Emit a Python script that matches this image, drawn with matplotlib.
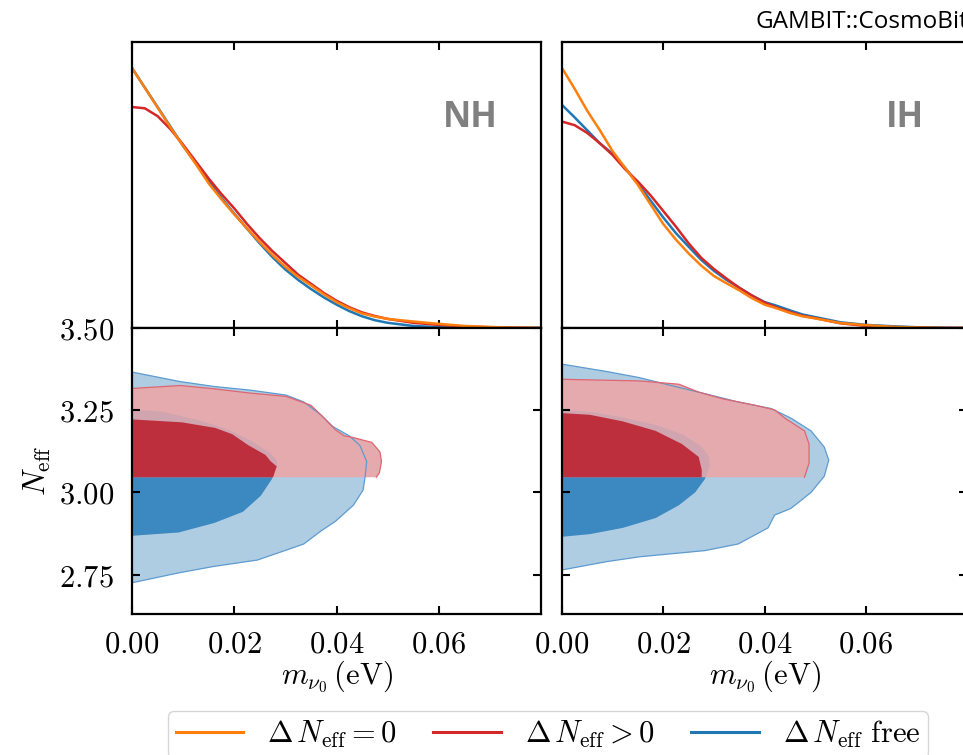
import matplotlib
matplotlib.use('Agg')
import matplotlib.pyplot as plt
from matplotlib.ticker import FuncFormatter

plt.rcParams['mathtext.fontset'] = 'cm'

# 1D posteriors (normalised), m_nu0 grid in eV
m_1d = [0, 0.0025, 0.005, 0.0075, 0.01, 0.0125, 0.015, 0.0175, 0.02, 0.0225, 0.025, 0.0275,
        0.03, 0.0325, 0.035, 0.0375, 0.04, 0.0425, 0.045, 0.0475, 0.05, 0.055, 0.06, 0.065,
        0.07, 0.075, 0.08]

nh_orange = [1.0, 0.924, 0.848, 0.772, 0.70, 0.63, 0.556, 0.495, 0.437, 0.383, 0.33, 0.28,
             0.235, 0.197, 0.164, 0.13, 0.10, 0.076, 0.056, 0.044, 0.035, 0.025, 0.016, 0.008,
             0.004, 0.001, 0.0]
nh_red = [0.85, 0.845, 0.815, 0.765, 0.705, 0.64, 0.575, 0.515, 0.46, 0.40, 0.345, 0.295,
          0.25, 0.205, 0.17, 0.135, 0.105, 0.08, 0.06, 0.046, 0.035, 0.02, 0.012, 0.006,
          0.003, 0.001, 0.0]
nh_blue = [1.0, 0.925, 0.85, 0.775, 0.70, 0.633, 0.565, 0.50, 0.44, 0.382, 0.325, 0.272,
           0.225, 0.185, 0.15, 0.118, 0.09, 0.065, 0.045, 0.03, 0.02, 0.008, 0.003, 0.001,
           0.0, 0.0, 0.0]

ih_orange = [1.0, 0.92, 0.835, 0.76, 0.68, 0.615, 0.55, 0.475, 0.40, 0.34, 0.287, 0.24,
             0.20, 0.172, 0.145, 0.115, 0.09, 0.075, 0.058, 0.045, 0.037, 0.019, 0.011, 0.005,
             0.002, 0.0, 0.0]
ih_red = [0.794, 0.78, 0.75, 0.71, 0.665, 0.61, 0.563, 0.51, 0.45, 0.39, 0.326, 0.27,
          0.227, 0.19, 0.155, 0.125, 0.098, 0.078, 0.062, 0.047, 0.038, 0.018, 0.008, 0.003,
          0.001, 0.0, 0.0]
ih_blue = [0.858, 0.81, 0.76, 0.71, 0.67, 0.615, 0.555, 0.49, 0.425, 0.365, 0.313, 0.262,
           0.22, 0.185, 0.155, 0.125, 0.10, 0.085, 0.068, 0.052, 0.042, 0.022, 0.012, 0.007,
           0.003, 0.001, 0.0]

# 2D credible region boundaries (m_nu0, N_eff), traced from the m=0 axis
nh_blue95_m = [0, 0.0091, 0.0161, 0.0245, 0.0301, 0.0336, 0.0370, 0.0398, 0.0433, 0.0452, 0.0456,
               0.0459, 0.0446, 0.0426, 0.0393, 0.0370, 0.0336, 0.0301, 0.0231, 0.0161, 0.0094, 0]
nh_blue95_n = [2.725, 2.755, 2.775, 2.794, 2.824, 2.843, 2.883, 2.912, 2.961, 3.007, 3.047,
               3.094, 3.142, 3.171, 3.200, 3.235, 3.275, 3.296, 3.311, 3.322, 3.337, 3.366]
nh_blue68_m = [0, 0.0091, 0.0161, 0.0217, 0.0252, 0.0273, 0.0285, 0.0282, 0.0270, 0.0235,
               0.0190, 0.0130, 0.0060, 0]
nh_blue68_n = [2.868, 2.878, 2.907, 2.941, 2.990, 3.039, 3.080, 3.100, 3.120, 3.155,
               3.190, 3.220, 3.245, 3.253]
nh_red95_m = [0, 0.0478, 0.0484, 0.0488, 0.0485, 0.0469, 0.0432, 0.0415, 0.0398, 0.0370,
              0.0350, 0.0301, 0.0231, 0.0161, 0.0094, 0]
nh_red95_n = [3.046, 3.046, 3.060, 3.094, 3.123, 3.152, 3.167, 3.172, 3.190, 3.235,
              3.265, 3.292, 3.302, 3.315, 3.325, 3.316]
nh_red68_m = [0, 0.0276, 0.0283, 0.0271, 0.0261, 0.0228, 0.0196, 0.0163, 0.0098, 0]
nh_red68_n = [3.046, 3.046, 3.079, 3.095, 3.114, 3.143, 3.177, 3.196, 3.213, 3.222]

ih_blue95_m = [0, 0.0087, 0.0153, 0.0283, 0.0348, 0.0407, 0.0420, 0.0452, 0.0492, 0.0518, 0.0527,
               0.0518, 0.0492, 0.0452, 0.0413, 0.0348, 0.0283, 0.0218, 0.0153, 0.0087, 0]
ih_blue95_n = [2.764, 2.789, 2.804, 2.823, 2.843, 2.892, 2.931, 2.951, 3.000, 3.049, 3.098,
               3.138, 3.187, 3.226, 3.255, 3.275, 3.300, 3.324, 3.349, 3.368, 3.390]
ih_blue68_m = [0, 0.0055, 0.0120, 0.0185, 0.0231, 0.0263, 0.0282, 0.0292, 0.0290, 0.0275,
               0.0240, 0.0185, 0.0120, 0.0055, 0]
ih_blue68_n = [2.865, 2.873, 2.892, 2.922, 2.961, 3.000, 3.040, 3.080, 3.110, 3.140,
               3.175, 3.205, 3.228, 3.245, 3.250]
ih_red95_m = [0, 0.0479, 0.0488, 0.0488, 0.0479, 0.0440, 0.0420, 0.0381, 0.0316, 0.0270,
              0.0231, 0.0153, 0]
ih_red95_n = [3.046, 3.046, 3.089, 3.147, 3.187, 3.226, 3.251, 3.265, 3.285, 3.305,
              3.329, 3.339, 3.344]
ih_red68_m = [0, 0.0276, 0.0276, 0.0270, 0.0237, 0.0185, 0.0120, 0.0055, 0]
ih_red68_n = [3.046, 3.046, 3.069, 3.108, 3.147, 3.187, 3.216, 3.236, 3.241]

labels = [r'$\Delta\,N_{\rm eff} = 0$', r'$\Delta\,N_{\rm eff} > 0$', r'$\Delta\,N_{\rm eff}\ \mathrm{free}$']
c_orange = '#ff7f0e'
c_red = '#d62728'
c_blue = '#1f77b4'

fig = plt.figure(figsize=(9.63, 7.55), dpi=100)
W, H = 963.0, 755.0


def ax_at(x0, y_top, w, h):
    return fig.add_axes([x0 / W, 1 - (y_top + h) / H, w / W, h / H])


ax_nh1 = ax_at(132, 42, 409, 286)
ax_nh2 = ax_at(132, 328, 409, 286)
ax_ih1 = ax_at(562, 42, 405, 286)
ax_ih2 = ax_at(562, 328, 405, 286)

fmt = FuncFormatter(lambda v, p: '$%.2f$' % v)
xt = [0.0, 0.02, 0.04, 0.06]

for ax in [ax_nh1, ax_nh2, ax_ih1, ax_ih2]:
    for s in ax.spines.values():
        s.set_linewidth(1.6)
    ax.set_xlim(0, 0.08)
    ax.set_xticks(xt)
    ax.tick_params(direction='in', length=6, width=1.5, top=True, right=True,
                   labelsize=22, pad=11)

# top row: 1D posteriors
for ax, o, r, b, name in [(ax_nh1, nh_orange, nh_red, nh_blue, 'NH'),
                          (ax_ih1, ih_orange, ih_red, ih_blue, 'IH')]:
    ax.plot(m_1d, b, color=c_blue, lw=1.8)
    ax.plot(m_1d, r, color=c_red, lw=1.8)
    ax.plot(m_1d, o, color=c_orange, lw=1.8)
    ax.set_ylim(0, 1.1)
    ax.set_yticks([])
    ax.tick_params(labelbottom=False)
    ax.text(0.895, 0.735, name, transform=ax.transAxes, ha='right', va='center',
            fontsize=25, fontweight='bold', color='#808080', family='Open Sans')

# bottom row: 2D credible regions
blue_light = '#aecde3'
blue_dark = '#3c88c0'
red_light = '#e5aaae'
red_dark = '#be2f3e'

for ax, regions in [(ax_nh2, (nh_blue95_m, nh_blue95_n, nh_blue68_m, nh_blue68_n,
                              nh_red95_m, nh_red95_n, nh_red68_m, nh_red68_n)),
                    (ax_ih2, (ih_blue95_m, ih_blue95_n, ih_blue68_m, ih_blue68_n,
                              ih_red95_m, ih_red95_n, ih_red68_m, ih_red68_n))]:
    b95m, b95n, b68m, b68n, r95m, r95n, r68m, r68n = regions
    ax.fill(b95m, b95n, color=blue_light, lw=0)
    ax.fill(b68m, b68n, color=blue_dark, lw=0)
    ax.fill(r95m, r95n, color=red_light, lw=0)
    # blue 68% region faintly showing through the red one
    ax.fill(b68m, b68n, color=blue_dark, alpha=0.12, lw=0)
    ax.fill(r68m, r68n, color=red_dark, lw=0)
    ax.plot(b95m, b95n, color='#5d9bcf', lw=0.9)
    ax.plot(r95m[1:], r95n[1:], color='#e06570', lw=0.9)
    ax.set_ylim(2.63, 3.50)
    ax.set_yticks([2.75, 3.0, 3.25, 3.5])
    ax.xaxis.set_major_formatter(fmt)
    ax.yaxis.set_major_formatter(fmt)
    ax.set_xlabel(r'$m_{\nu_0}\,(\mathrm{eV})$', fontsize=22, labelpad=0)

ax_nh2.tick_params(axis='y', pad=13)
ax_nh2.set_ylabel(r'$N_{\rm eff}$', fontsize=22, labelpad=4)
ax_ih2.tick_params(labelleft=False)

fig.text(755 / W, 1 - 28 / H, 'GAMBIT::CosmoBit', fontsize=17.5, family='Open Sans',
         ha='left', va='baseline')

handles = [plt.Line2D([], [], color=c, lw=2.2) for c in [c_orange, c_red, c_blue]]
fig.legend(handles, labels, loc='upper center', bbox_to_anchor=(548 / W, 1 - 696 / H),
           ncol=3, fontsize=22, handlelength=2.2, handletextpad=0.8, columnspacing=1.2,
           frameon=True, fancybox=True, edgecolor='#cccccc', borderpad=0.25)

fig.savefig('out.png', dpi=100)
